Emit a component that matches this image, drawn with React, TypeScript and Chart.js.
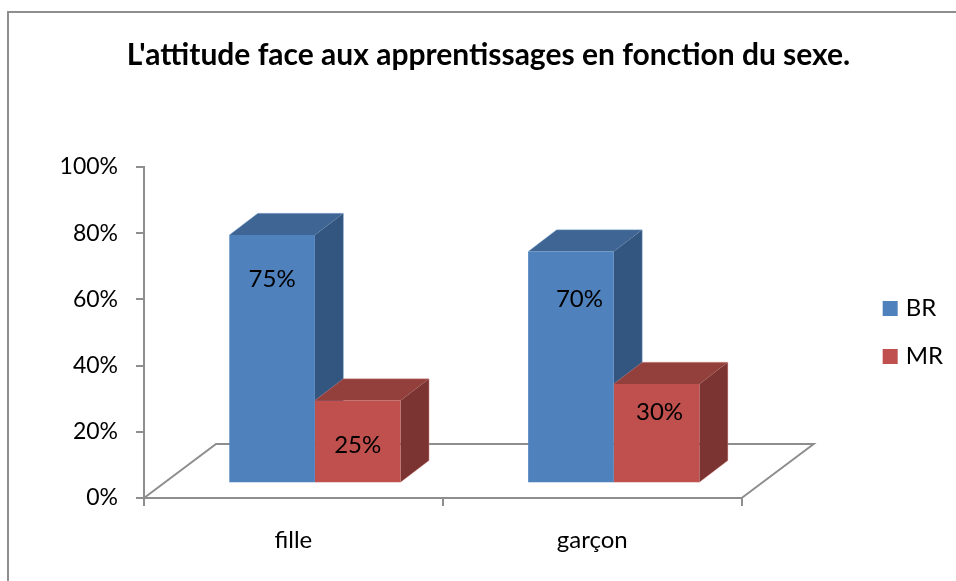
import React, { useEffect, useRef } from "react";
import { Chart, registerables } from "chart.js";

Chart.register(...registerables);

const categories = ["fille", "garçon"];
const seriesBR = [75, 70];
const seriesMR = [25, 30];
const yTicksMax = 100;
const yTickStep = 20;
const titleText = "L'attitude face aux apprentissages en fonction du sexe.";

const GREY = "#8e8e8e";
const FONT = "Lato, sans-serif";
const SHIFT = { x: 21.5, y: -14.8 };
const DEPTH = { x: 28.5, y: -21.7 };
const FLOOR = { x: 72, y: -54 };
const FACE = [
  { front: "#4F81BD", top: "#3E6593", side: "#335680", edge: "rgba(150,185,225,0.4)" },
  { front: "#C0504D", top: "#933F3C", side: "#7B3431", edge: "rgba(225,150,150,0.4)" },
];
// label placement relative to each bar's top edge and centre: [dx, dy]
const LABEL_NUDGE = [
  [[0, 44], [8.5, 47.5]],
  [[0, 45], [3, 28]],
];

const poly = (ctx: CanvasRenderingContext2D, pts: number[][], fill: string) => {
  ctx.beginPath();
  pts.forEach((p, i) => (i ? ctx.lineTo(p[0], p[1]) : ctx.moveTo(p[0], p[1])));
  ctx.closePath();
  ctx.fillStyle = fill;
  ctx.fill();
};

const threeD = {
  id: "threeD",
  beforeInit(chart: any) {
    chart.ctx.letterSpacing = "0.01px";
  },
  afterLayout(chart: any) {
    chart.legend.top += 42;
    chart.legend.bottom += 42;
  },
  beforeDraw(chart: any) {
    const ctx = chart.ctx;
    ctx.save();
    ctx.strokeStyle = GREY;
    ctx.lineWidth = 2;
    ctx.beginPath();
    ctx.moveTo(8, chart.height);
    ctx.lineTo(8, 12);
    ctx.lineTo(chart.width, 12);
    ctx.stroke();
    ctx.restore();
  },
  beforeDatasetsDraw(chart: any) {
    const ctx = chart.ctx;
    const { left, right, bottom } = chart.chartArea;
    ctx.save();
    ctx.strokeStyle = GREY;
    ctx.lineWidth = 2;
    ctx.beginPath();
    ctx.moveTo(left, bottom);
    ctx.lineTo(left + FLOOR.x, bottom + FLOOR.y);
    ctx.lineTo(right + FLOOR.x, bottom + FLOOR.y);
    ctx.lineTo(right, bottom);
    ctx.stroke();
    ctx.restore();

    ctx.save();
    ctx.translate(SHIFT.x, SHIFT.y);
    chart.data.datasets.forEach((_: any, d: number) => {
      chart.getDatasetMeta(d).data.forEach((bar: any) => {
        const l = bar.x - bar.width / 2;
        const r = bar.x + bar.width / 2;
        const t = bar.y;
        const b = bar.base;
        const c = FACE[d];
        poly(ctx, [[r, t], [r + DEPTH.x, t + DEPTH.y], [r + DEPTH.x, b + DEPTH.y], [r, b]], c.side);
        poly(ctx, [[l, t], [l + DEPTH.x, t + DEPTH.y], [r + DEPTH.x, t + DEPTH.y], [r, t]], c.top);
        ctx.strokeStyle = c.edge;
        ctx.lineWidth = 1;
        ctx.beginPath();
        ctx.moveTo(l, t);
        ctx.lineTo(l + DEPTH.x, t + DEPTH.y);
        ctx.lineTo(r + DEPTH.x, t + DEPTH.y);
        ctx.lineTo(r + DEPTH.x, b + DEPTH.y);
        ctx.lineTo(r, b);
        ctx.stroke();
      });
    });
  },
  afterDatasetsDraw(chart: any) {
    const ctx = chart.ctx;
    ctx.restore();
    ctx.save();
    ctx.fillStyle = "#000";
    ctx.font = `24px ${FONT}`;
    ctx.textAlign = "center";
    ctx.textBaseline = "middle";
    chart.data.datasets.forEach((ds: any, d: number) => {
      chart.getDatasetMeta(d).data.forEach((bar: any, i: number) => {
        const [dx, dy] = LABEL_NUDGE[d][i];
        ctx.fillText(`${ds.data[i]}%`, bar.x + SHIFT.x + dx, bar.y + SHIFT.y + dy);
      });
    });
    ctx.restore();
  },
};

export default function App() {
  const ref = useRef<HTMLCanvasElement>(null);
  useEffect(() => {
    const chart = new Chart(ref.current as HTMLCanvasElement, {
      type: "bar",
      plugins: [threeD],
      data: {
        labels: categories,
        datasets: [
          { label: "BR", data: seriesBR, backgroundColor: FACE[0].front, borderWidth: 0 },
          { label: "MR", data: seriesMR, backgroundColor: FACE[1].front, borderWidth: 0 },
        ],
      },
      options: {
        responsive: false,
        animation: false,
        layout: { padding: { left: 24, right: 3, top: 0, bottom: 0 } },
        categoryPercentage: 0.573,
        barPercentage: 1,
        plugins: {
          tooltip: { enabled: false },
          title: {
            display: true,
            text: titleText,
            color: "#000",
            font: { family: FONT, size: 30, weight: "bold" },
            padding: { top: 37, bottom: 11 },
          },
          legend: {
            display: true,
            position: "right",
            labels: {
              usePointStyle: true,
              pointStyle: "rect",
              boxWidth: 7,
              boxHeight: 15,
              padding: 24,
              color: "#000",
              font: { family: FONT, size: 24 },
            },
          },
        },
        scales: {
          x: {
            grid: { drawOnChartArea: false, color: GREY, tickLength: 8, lineWidth: 2 },
            border: { color: GREY, width: 2 },
            ticks: { color: "#000", padding: 20, font: { family: FONT, size: 24 }, maxRotation: 0 },
            afterFit: (s: any) => { s.height = 83; },
          },
          y: {
            min: 0,
            max: yTicksMax,
            grid: { drawOnChartArea: false, color: GREY, tickLength: 8, lineWidth: 2 },
            border: { color: GREY, width: 2 },
            ticks: {
              stepSize: yTickStep,
              color: "#000",
              padding: 18,
              font: { family: FONT, size: 23 },
              callback: (v: any) => `${v}%`,
            },
            afterFit: (s: any) => { s.width = 120; },
          },
          xTop: {
            axis: "x",
            position: "top",
            type: "linear",
            display: true,
            grid: { display: false },
            border: { display: false },
            ticks: { display: false },
            afterFit: (s: any) => { s.height = 83; },
          },
          yRight: {
            axis: "y",
            position: "right",
            type: "linear",
            display: true,
            grid: { display: false },
            border: { display: false },
            ticks: { display: false },
            afterFit: (s: any) => { s.width = 121; },
          },
        },
      } as any,
    });
    return () => chart.destroy();
  }, []);
  return (
    <div style={{ position: "fixed", left: 0, top: 0, width: 956, height: 581, background: "#fff" }}>
      <canvas ref={ref} width={956} height={581} style={{ display: "block" }} />
    </div>
  );
}
